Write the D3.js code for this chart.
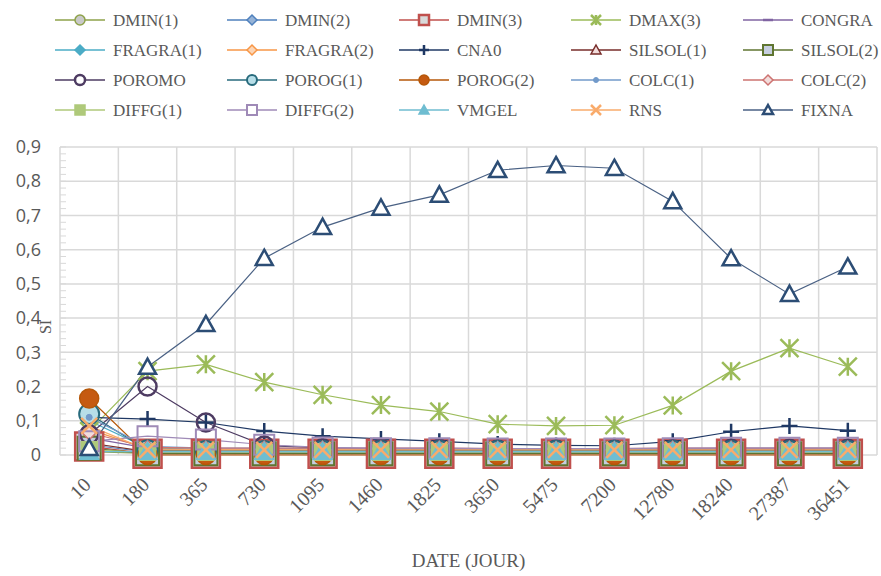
<!DOCTYPE html>
<html>
<head>
<meta charset="utf-8">
<script src="https://cdn.jsdelivr.net/npm/d3@7"></script>
<style>
  html, body { margin: 0; padding: 0; background: #ffffff; }
  #chart { width: 881px; height: 576px; }
</style>
</head>
<body>
<div id="chart"></div>
<script>
// categories (days)
const categories = ["10", "180", "365", "730", "1095", "1460", "1825", "3650", "5475", "7200", "12780", "18240", "27387", "36451"];
const yTicks = [0, 0.1, 0.2, 0.3, 0.4, 0.5, 0.6, 0.7, 0.8, 0.9];

// series values
const dmin1   = [0.010, 0.005, 0.005, 0.005, 0.005, 0.005, 0.005, 0.005, 0.005, 0.005, 0.005, 0.005, 0.005, 0.005];
const dmin2   = [0.030, 0.008, 0.008, 0.008, 0.007, 0.007, 0.007, 0.007, 0.007, 0.007, 0.007, 0.008, 0.008, 0.008];
const dmin3   = [0.025, 0.004, 0.004, 0.004, 0.004, 0.004, 0.004, 0.004, 0.004, 0.004, 0.004, 0.004, 0.004, 0.004];
const dmax3   = [0.070, 0.245, 0.265, 0.213, 0.176, 0.146, 0.127, 0.090, 0.085, 0.087, 0.145, 0.245, 0.312, 0.258];
const congra  = [0.050, 0.020, 0.016, 0.015, 0.015, 0.015, 0.015, 0.014, 0.014, 0.014, 0.015, 0.015, 0.015, 0.015];
const fragra1 = [0.100, 0.020, 0.016, 0.015, 0.014, 0.014, 0.014, 0.013, 0.013, 0.013, 0.014, 0.014, 0.014, 0.014];
const fragra2 = [0.075, 0.018, 0.016, 0.015, 0.015, 0.015, 0.015, 0.015, 0.015, 0.015, 0.015, 0.015, 0.015, 0.015];
const cna0    = [0.110, 0.105, 0.095, 0.070, 0.055, 0.047, 0.040, 0.032, 0.028, 0.027, 0.040, 0.068, 0.085, 0.071];
const silsol1 = [0.035, 0.010, 0.010, 0.010, 0.010, 0.010, 0.010, 0.010, 0.010, 0.010, 0.010, 0.010, 0.010, 0.010];
const silsol2 = [0.020, 0.004, 0.004, 0.004, 0.004, 0.004, 0.004, 0.004, 0.004, 0.004, 0.004, 0.004, 0.004, 0.004];
const poromo  = [0.060, 0.200, 0.095, 0.028, 0.020, 0.018, 0.018, 0.016, 0.016, 0.016, 0.017, 0.018, 0.018, 0.018];
const porog1  = [0.120, 0.014, 0.012, 0.012, 0.012, 0.012, 0.012, 0.012, 0.012, 0.012, 0.012, 0.012, 0.012, 0.012];
const porog2  = [0.165, 0.000, 0.000, 0.000, 0.000, 0.000, 0.000, 0.000, 0.000, 0.000, 0.000, 0.000, 0.000, 0.000];
const colc1   = [0.110, 0.025, 0.020, 0.020, 0.019, 0.019, 0.019, 0.018, 0.018, 0.018, 0.019, 0.019, 0.019, 0.019];
const colc2   = [0.065, 0.022, 0.020, 0.020, 0.020, 0.020, 0.020, 0.019, 0.019, 0.019, 0.020, 0.020, 0.020, 0.020];
const diffg1  = [0.015, 0.008, 0.008, 0.008, 0.008, 0.008, 0.008, 0.008, 0.008, 0.008, 0.008, 0.008, 0.008, 0.008];
const diffg2  = [0.040, 0.055, 0.045, 0.030, 0.022, 0.020, 0.020, 0.019, 0.019, 0.019, 0.020, 0.021, 0.021, 0.021];
const vmgel   = [0.010, 0.010, 0.010, 0.010, 0.010, 0.010, 0.010, 0.010, 0.010, 0.010, 0.010, 0.010, 0.010, 0.010];
const rns     = [0.085, 0.015, 0.015, 0.015, 0.015, 0.015, 0.015, 0.015, 0.015, 0.015, 0.015, 0.015, 0.015, 0.015];
const fixna   = [0.020, 0.257, 0.382, 0.575, 0.666, 0.722, 0.760, 0.832, 0.846, 0.838, 0.741, 0.574, 0.470, 0.550];

const seriesNames = ["DMIN(1)", "DMIN(2)", "DMIN(3)", "DMAX(3)", "CONGRA",
                     "FRAGRA(1)", "FRAGRA(2)", "CNA0", "SILSOL(1)", "SILSOL(2)",
                     "POROMO", "POROG(1)", "POROG(2)", "COLC(1)", "COLC(2)",
                     "DIFFG(1)", "DIFFG(2)", "VMGEL", "RNS", "FIXNA"];
const seriesValues = [dmin1, dmin2, dmin3, dmax3, congra,
                      fragra1, fragra2, cna0, silsol1, silsol2,
                      poromo, porog1, porog2, colc1, colc2,
                      diffg1, diffg2, vmgel, rns, fixna];

// styles, one per series (same order)
const seriesStyles = [
  { color: "#8EA24A", marker: "circle",   fill: "#C9C9C9", size: 12, sw: 1.5 },
  { color: "#4F81BD", marker: "diamond",  fill: "#95B3D7", size: 12, sw: 1.5 },
  { color: "#C0504D", marker: "square",   fill: "#D9D9D9", size: 28, sw: 2.5 },
  { color: "#9BBB59", marker: "asterisk", fill: "none",    size: 18, sw: 2.5 },
  { color: "#8064A2", marker: "dash",     fill: "none",    size: 12, sw: 4 },
  { color: "#4BACC6", marker: "diamond",  fill: "#4BACC6", size: 14, sw: 1.5 },
  { color: "#F79646", marker: "diamond",  fill: "#FCD5B5", size: 14, sw: 1.5 },
  { color: "#1F3864", marker: "plus",     fill: "none",    size: 16, sw: 2.5 },
  { color: "#772C2A", marker: "triangle", fill: "#F2DCDB", size: 14, sw: 1.5 },
  { color: "#5F7530", marker: "square",   fill: "#C6CEDF", size: 23, sw: 2 },
  { color: "#4D3B62", marker: "circle",   fill: "none",    size: 18, sw: 2.5 },
  { color: "#276A7C", marker: "circle",   fill: "#B7DEE8", size: 20, sw: 2 },
  { color: "#B65708", marker: "circle",   fill: "#C55A11", size: 19, sw: 1.5 },
  { color: "#729ACA", marker: "dot",      fill: "#729ACA", size: 6,  sw: 1 },
  { color: "#CD7371", marker: "diamond",  fill: "#F2DCDB", size: 14, sw: 1.5 },
  { color: "#AFC97A", marker: "square",   fill: "#AFC97A", size: 16, sw: 1.5 },
  { color: "#9F8AB7", marker: "square",   fill: "none",    size: 20, sw: 2 },
  { color: "#6FBDD1", marker: "triangle", fill: "#6FBDD1", size: 19, sw: 1.5 },
  { color: "#F9AB6B", marker: "x",        fill: "none",    size: 16, sw: 2.5 },
  { color: "#2C4D75", marker: "triangle", fill: "#FFFFFF", size: 17, sw: 2.5, line: "#4A6184" }
];

// marker shapes around (0,0), s = full width
function markerPath(type, s) {
  const h = s / 2;
  if (type === "circle" || type === "dot") {
    const p = d3.path(); p.arc(0, 0, h, 0, 2 * Math.PI); p.closePath(); return p.toString();
  }
  if (type === "square") return `M${-h},${-h}H${h}V${h}H${-h}Z`;
  if (type === "diamond") return `M0,${-h}L${h},0L0,${h}L${-h},0Z`;
  if (type === "triangle") return `M0,${-h}L${h},${h * 0.8}L${-h},${h * 0.8}Z`;
  if (type === "plus") return `M${-h},0H${h}M0,${-h}V${h}`;
  if (type === "x") return `M${-h},${-h}L${h},${h}M${-h},${h}L${h},${-h}`;
  if (type === "asterisk") return `M${-h},${-h}L${h},${h}M${-h},${h}L${h},${-h}M0,${-h}V${h}`;
  if (type === "dash") return `M${-h},0H${h}`;
  return "";
}

const W = 881, H = 576;
const plot = { left: 60, right: 877, top: 147, bottom: 455 };

const svg = d3.select("#chart").append("svg")
  .attr("width", W).attr("height", H)
  .style("background", "#ffffff");

const x = d3.scaleBand().domain(categories).range([plot.left, plot.right]).padding(0);
const y = d3.scaleLinear().domain([0, 0.9]).range([plot.bottom, plot.top]);

// horizontal grid
svg.append("g")
  .selectAll("line")
  .data(yTicks)
  .enter().append("line")
  .attr("x1", plot.left).attr("x2", plot.right)
  .attr("y1", d => y(d)).attr("y2", d => y(d))
  .attr("stroke", "#D9D9D9").attr("stroke-width", 1.5);

// vertical grid at category boundaries
svg.append("g")
  .selectAll("line")
  .data(d3.range(categories.length + 1))
  .enter().append("line")
  .attr("x1", i => plot.left + i * x.step()).attr("x2", i => plot.left + i * x.step())
  .attr("y1", plot.top).attr("y2", plot.bottom)
  .attr("stroke", "#D9D9D9").attr("stroke-width", 1.5);

// minor ticks on the value axis
svg.append("g")
  .selectAll("line")
  .data(d3.range(0, 0.9001, 0.02))
  .enter().append("line")
  .attr("x1", plot.left).attr("x2", plot.left + 6)
  .attr("y1", d => y(d)).attr("y2", d => y(d))
  .attr("stroke", "#D9D9D9").attr("stroke-width", 1);

// y axis labels
const yAxis = d3.axisLeft(y).tickValues(yTicks).tickSize(0).tickPadding(19)
  .tickFormat(d => d === 0 ? "0" : d3.format(".1f")(d).replace(".", ","));
const gy = svg.append("g").attr("transform", `translate(${plot.left},0)`).call(yAxis);
gy.select(".domain").remove();
gy.selectAll("text")
  .attr("fill", "#595959")
  .style("font-family", "'Open Sans', sans-serif")
  .style("font-size", "18px");

// x axis labels (rotated)
svg.append("g")
  .selectAll("text")
  .data(categories)
  .enter().append("text")
  .attr("transform", d => `translate(${x(d) + x.bandwidth() / 2 + 3},486) rotate(-45)`)
  .attr("text-anchor", "end")
  .attr("fill", "#595959")
  .style("font-family", "'Liberation Serif', serif")
  .style("font-size", "20px")
  .text(d => d);

// axis titles
svg.append("text")
  .attr("x", (plot.left + plot.right) / 2).attr("y", 567)
  .attr("text-anchor", "middle")
  .attr("fill", "#595959")
  .style("font-family", "'Liberation Serif', serif")
  .style("font-size", "19px")
  .text("DATE (JOUR)");

svg.append("text")
  .attr("transform", "translate(51,327) rotate(-90)")
  .attr("text-anchor", "middle")
  .attr("fill", "#595959")
  .style("font-family", "'Liberation Serif', serif")
  .style("font-size", "16px")
  .text("SI");

// lines first, then markers
const line = d3.line()
  .x((d, i) => x(categories[i]) + x.bandwidth() / 2)
  .y(d => y(d));

const linesG = svg.append("g");
seriesValues.forEach((vals, k) => {
  const st = seriesStyles[k];
  linesG.append("path")
    .datum(vals)
    .attr("fill", "none")
    .attr("stroke", st.line || st.color)
    .attr("stroke-width", 1.2)
    .attr("d", line);
});

const markersG = svg.append("g");
seriesValues.forEach((vals, k) => {
  const st = seriesStyles[k];
  markersG.append("g")
    .selectAll("path")
    .data(vals)
    .enter().append("path")
    .attr("transform", (d, i) => `translate(${x(categories[i]) + x.bandwidth() / 2},${y(d)})`)
    .attr("d", markerPath(st.marker, st.size))
    .attr("fill", st.fill)
    .attr("stroke", st.color)
    .attr("stroke-width", st.sw);
});

// legend: 4 rows x 5 columns
const legend = svg.append("g");
seriesNames.forEach((name, k) => {
  const st = seriesStyles[k];
  const col = k % 5, row = Math.floor(k / 5);
  const lx = 55 + col * 172, ly = 20 + row * 30;
  const g = legend.append("g").attr("transform", `translate(${lx},${ly})`);
  g.append("line")
    .attr("x1", 0).attr("x2", 50).attr("y1", 0).attr("y2", 0)
    .attr("stroke", st.line || st.color).attr("stroke-width", 1.5);
  const ms = st.marker === "dot" ? 5 : (st.marker === "dash" ? 10 : 10);
  g.append("path")
    .attr("transform", "translate(25,0)")
    .attr("d", markerPath(st.marker, ms))
    .attr("fill", st.fill === "none" && (st.marker === "circle" || st.marker === "square") ? "#ffffff" : st.fill)
    .attr("stroke", st.color)
    .attr("stroke-width", Math.min(st.sw, 2.5));
  g.append("text")
    .attr("x", 58).attr("y", 6)
    .attr("fill", "#595959")
    .style("font-family", "'Liberation Serif', serif")
    .style("font-size", "17px")
    .text(name);
});
</script>
</body>
</html>
